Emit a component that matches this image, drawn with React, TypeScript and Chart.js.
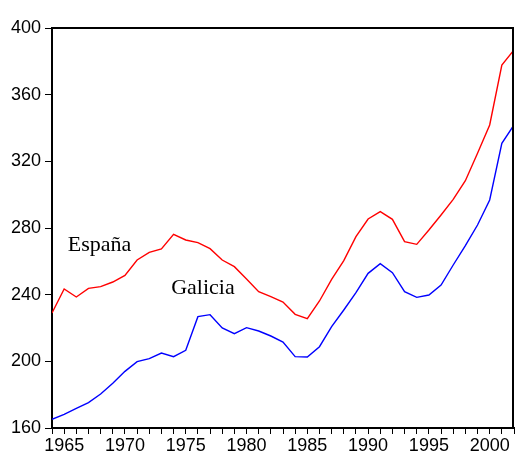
import React, { useEffect, useRef } from "react";
import { Chart, registerables } from "chart.js";

Chart.register(...registerables);

const years = [
  1964, 1965, 1966, 1967, 1968, 1969, 1970, 1971, 1972, 1973, 1974, 1975, 1976,
  1977, 1978, 1979, 1980, 1981, 1982, 1983, 1984, 1985, 1986, 1987, 1988, 1989,
  1990, 1991, 1992, 1993, 1994, 1995, 1996, 1997, 1998, 1999, 2000, 2001, 2002,
];

const espana = [
  229, 243.4, 238.6, 243.8, 244.8, 247.6, 251.6, 260.8, 265.4, 267.4, 276.2,
  272.8, 271.2, 267.6, 260.8, 256.8, 249.4, 241.8, 238.8, 235.6, 228.2, 225.6,
  236.2, 249.2, 260.4, 274.8, 285.4, 289.8, 285.2, 271.8, 270.2, 278.8, 287.8,
  297.2, 308.4, 324.8, 341.8, 377.8, 386.8,
];

const galicia = [
  165.2, 168.2, 171.8, 175.2, 180.4, 186.8, 194, 199.8, 201.6, 205, 202.8, 206.6,
  226.8, 228, 220, 216.6, 220.2, 218.2, 215.2, 211.6, 202.8, 202.6, 208.8, 220.8,
  230.8, 241.2, 252.8, 258.6, 253.2, 241.8, 238.4, 239.8, 245.8, 257.8, 269.4,
  281.8, 296.8, 330.8, 341.8,
];

const seriesNames = ["España", "Galicia"];
const seriesColors = ["#FF0000", "#0000FF"];
// label anchor positions in data units (year, value at text baseline)
const labelYears = [1965.3, 1973.8];
const labelValues = [266.2, 240.4];

const yTicks = [160, 200, 240, 280, 320, 360, 400];

const TICK_FONT = "'Liberation Sans', Arial, sans-serif";
const LABEL_FONT = "'Liberation Serif', 'Times New Roman', serif";

const framePlugin = {
  id: "frame",
  afterDatasetsDraw(chart: any) {
    const { ctx, chartArea, scales } = chart;
    ctx.save();
    ctx.strokeStyle = "#000";
    ctx.lineWidth = 2;
    ctx.beginPath();
    ctx.moveTo(chartArea.left, chartArea.top);
    ctx.lineTo(chartArea.right - 1, chartArea.top);
    ctx.lineTo(chartArea.right - 1, chartArea.bottom);
    ctx.stroke();
    ctx.fillStyle = "#000";
    ctx.font = `22px ${LABEL_FONT}`;
    ctx.textAlign = "left";
    ctx.textBaseline = "alphabetic";
    seriesNames.forEach((name, i) => {
      const x = scales.x.getPixelForValue(labelYears[i]);
      const y = scales.y.getPixelForValue(labelValues[i]);
      ctx.fillText(name, x, y);
    });
    ctx.restore();
  },
};

export default function App() {
  const ref = useRef<HTMLCanvasElement | null>(null);
  useEffect(() => {
    document.body.style.margin = "0";
    const canvas = ref.current;
    if (!canvas) return;
    const chart = new Chart(canvas, {
      type: "line",
      data: {
        datasets: [
          {
            label: seriesNames[0],
            data: years.map((y, i) => ({ x: y, y: espana[i] })),
            borderColor: seriesColors[0],
            borderWidth: 1.4,
            pointRadius: 0,
            tension: 0,
          },
          {
            label: seriesNames[1],
            data: years.map((y, i) => ({ x: y, y: galicia[i] })),
            borderColor: seriesColors[1],
            borderWidth: 1.4,
            pointRadius: 0,
            tension: 0,
          },
        ],
      },
      options: {
        animation: false,
        responsive: false,
        events: [],
        layout: { padding: { top: 28, right: 0, left: 0, bottom: 0 } },
        plugins: {
          legend: { display: false },
          tooltip: { enabled: false },
          title: { display: false },
        },
        scales: {
          x: {
            type: "linear",
            min: years[0],
            max: years[years.length - 1],
            afterFit: (s: any) => {
              s.height = 29;
            },
            afterBuildTicks: (s: any) => {
              s.ticks = years.map((v) => ({ value: v }));
            },
            ticks: {
              autoSkip: false,
              maxRotation: 0,
              padding: 1,
              color: "#000",
              font: { family: TICK_FONT, size: 18 },
              callback: (v: any) => (Number(v) % 5 === 0 ? String(v) : ""),
            },
            grid: {
              drawOnChartArea: false,
              drawTicks: true,
              tickLength: 6,
              color: "#000",
              lineWidth: 1,
            },
            border: { display: true, color: "#000", width: 2 },
          },
          y: {
            type: "linear",
            min: yTicks[0],
            max: yTicks[yTicks.length - 1],
            afterFit: (s: any) => {
              s.width = 52;
            },
            afterBuildTicks: (s: any) => {
              s.ticks = yTicks.map((v) => ({ value: v }));
            },
            ticks: {
              padding: 4,
              color: "#000",
              font: { family: TICK_FONT, size: 18 },
            },
            grid: {
              drawOnChartArea: false,
              drawTicks: true,
              tickLength: 7,
              color: "#000",
              lineWidth: 1,
            },
            border: { display: true, color: "#000", width: 2 },
          },
        },
      },
      plugins: [framePlugin],
    });
    return () => chart.destroy();
  }, []);
  return (
    <div style={{ width: 515, height: 457, background: "#fff" }}>
      <canvas ref={ref} width={515} height={457} style={{ display: "block" }} />
    </div>
  );
}
